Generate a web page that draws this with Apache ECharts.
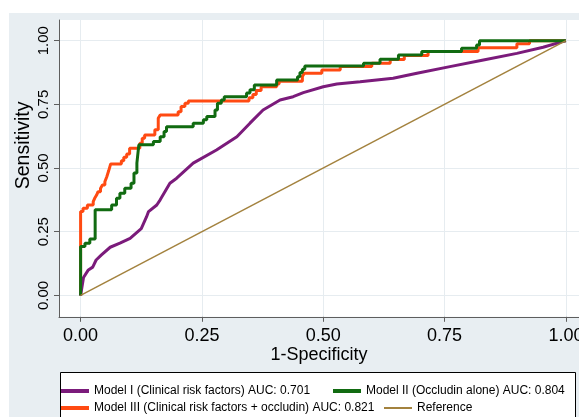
<!DOCTYPE html>
<html>
<head>
<meta charset="utf-8">
<script src="https://cdn.jsdelivr.net/npm/echarts@6/dist/echarts.min.js"></script>
<style>
html,body{margin:0;padding:0;background:#fff;}
#chart{width:579px;height:417px;}
</style>
</head>
<body>
<div id="chart"></div>
<script>
// ---- data ----
var tickValues = [0, 0.25, 0.5, 0.75, 1];

var seriesNames = [
  'Model I (Clinical risk factors) AUC: 0.701',
  'Model II (Occludin alone) AUC: 0.804',
  'Model III (Clinical risk factors + occludin) AUC: 0.821',
  'Reference'
];

// Model I (purple) : [1-specificity, sensitivity]
var model1Points = [
  [0,0],[0.006,0.07],[0.016,0.1],[0.025,0.111],[0.032,0.139],[0.043,0.159],[0.061,0.189],
  [0.081,0.205],[0.102,0.224],[0.125,0.262],[0.136,0.309],[0.14,0.329],[0.157,0.355],
  [0.164,0.375],[0.184,0.44],[0.198,0.46],[0.232,0.519],[0.28,0.571],[0.322,0.623],
  [0.349,0.676],[0.376,0.728],[0.411,0.767],[0.438,0.78],[0.459,0.796],[0.5,0.819],
  [0.528,0.83],[0.576,0.839],[0.644,0.852],[0.693,0.872],[0.761,0.898],[0.83,0.924],
  [0.899,0.95],[0.953,0.974],[1,1]
];

// Model II (green)
var model2Points = [
  [0,0],[0,0.192],[0.009,0.192],[0.009,0.205],[0.019,0.205],[0.019,0.221],[0.030,0.221],
  [0.030,0.336],[0.064,0.336],[0.064,0.355],[0.074,0.355],[0.074,0.381],[0.081,0.381],
  [0.081,0.401],[0.091,0.401],[0.091,0.421],[0.104,0.421],[0.104,0.44],[0.110,0.44],
  [0.110,0.48],[0.116,0.48],[0.116,0.519],[0.120,0.519],[0.120,0.591],[0.150,0.591],
  [0.150,0.604],[0.164,0.604],[0.164,0.623],[0.172,0.623],[0.172,0.643],[0.177,0.643],
  [0.177,0.662],[0.232,0.662],[0.232,0.676],[0.253,0.676],[0.253,0.689],[0.260,0.689],
  [0.260,0.702],[0.277,0.702],[0.277,0.728],[0.282,0.728],[0.282,0.754],[0.290,0.754],
  [0.290,0.767],[0.296,0.767],[0.296,0.780],[0.342,0.780],[0.342,0.794],[0.349,0.794],
  [0.349,0.807],[0.358,0.807],[0.358,0.826],[0.404,0.826],[0.404,0.845],[0.447,0.845],
  [0.447,0.858],[0.452,0.858],[0.452,0.875],[0.457,0.875],[0.457,0.888],[0.462,0.888],
  [0.462,0.90],[0.583,0.90],[0.583,0.911],[0.617,0.911],[0.617,0.927],[0.655,0.927],
  [0.655,0.944],[0.703,0.944],[0.703,0.957],[0.785,0.957],[0.785,0.970],[0.816,0.970],
  [0.816,0.983],[0.822,0.983],[0.822,1],[1,1]
];

// Model III (orange)
var model3Points = [
  [0,0],[0,0.329],[0.005,0.329],[0.005,0.342],[0.014,0.342],[0.014,0.355],[0.026,0.355],
  [0.026,0.368],[0.029,0.368],[0.029,0.381],[0.033,0.381],[0.033,0.394],[0.036,0.394],
  [0.036,0.407],[0.041,0.407],[0.041,0.42],[0.045,0.42],[0.045,0.433],[0.050,0.433],
  [0.050,0.446],[0.054,0.446],[0.054,0.466],[0.058,0.466],[0.058,0.49],[0.062,0.49],
  [0.062,0.516],[0.084,0.516],[0.084,0.529],[0.089,0.529],[0.089,0.542],[0.095,0.542],
  [0.095,0.555],[0.101,0.555],[0.101,0.578],[0.122,0.578],[0.122,0.597],[0.127,0.597],
  [0.127,0.617],[0.132,0.617],[0.132,0.630],[0.153,0.630],[0.153,0.65],[0.160,0.65],
  [0.160,0.695],[0.164,0.695],[0.164,0.708],[0.201,0.708],[0.201,0.721],[0.207,0.721],
  [0.207,0.741],[0.215,0.741],[0.215,0.754],[0.222,0.754],[0.222,0.763],[0.347,0.763],
  [0.347,0.776],[0.355,0.776],[0.355,0.789],[0.362,0.789],[0.362,0.804],[0.372,0.804],
  [0.372,0.819],[0.404,0.819],[0.404,0.83],[0.409,0.83],[0.409,0.841],[0.457,0.841],
  [0.457,0.859],[0.461,0.859],[0.461,0.872],[0.497,0.872],[0.497,0.885],[0.535,0.885],
  [0.535,0.898],[0.600,0.898],[0.600,0.911],[0.638,0.911],[0.638,0.926],[0.667,0.926],
  [0.667,0.942],[0.716,0.942],[0.716,0.957],[0.819,0.957],[0.819,0.972],[0.899,0.972],
  [0.899,0.988],[0.925,0.988],[0.925,1],[1,1]
];

var referencePoints = [[0,0],[1,1]];

var colors = ['#7b1b7b', '#116b11', '#ff4a12', '#a3823e'];

// ---- chart ----
var chart = echarts.init(document.getElementById('chart'), null, {renderer: 'canvas'});
var fontFamily = '"Liberation Sans", Arial, Helvetica, sans-serif';

function legendItem(name, left, top, color, h) {
  return {
    show: true,
    data: [name],
    left: left,
    top: top,
    orient: 'horizontal',
    padding: 0,
    itemWidth: 28,
    itemHeight: h,
    icon: 'rect',
    selectedMode: false,
    textStyle: {color: '#000', fontSize: 12, fontFamily: fontFamily},
    itemStyle: {color: color}
  };
}

var option = {
  backgroundColor: '#ffffff',
  animation: false,
  textStyle: {fontFamily: fontFamily},
  graphic: [
    {type: 'rect', z: -100, silent: true,
     shape: {x: 9, y: 13, width: 600, height: 450},
     style: {fill: '#e8eef2'}},
    {type: 'rect', z: 1, silent: true,
     shape: {x: 60.5, y: 372.5, width: 515, height: 80},
     style: {fill: '#ffffff', stroke: '#000', lineWidth: 1}}
  ],
  grid: {
    left: 59, top: 20, right: 0, bottom: 100.2,
    containLabel: false,
    outerBoundsMode: 'none',
    show: true, backgroundColor: '#ffffff', borderWidth: 0
  },
  legend: [
    legendItem(seriesNames[0], 61, 385, colors[0], 4),
    legendItem(seriesNames[1], 333, 385, colors[1], 4),
    legendItem(seriesNames[2], 61, 402, colors[2], 4),
    legendItem(seriesNames[3], 384, 402, colors[3], 2)
  ],
  xAxis: {
    type: 'value',
    min: -0.0445, max: 1.027,
    name: '1-Specificity',
    nameLocation: 'middle',
    nameGap: 29,
    nameMoveOverlap: false,
    nameTextStyle: {fontSize: 18, color: '#000', fontFamily: fontFamily},
    axisLine: {show: true, onZero: false, lineStyle: {color: '#5e5e5e', width: 1}},
    axisTick: {show: true, length: 5, customValues: tickValues, lineStyle: {color: '#5e5e5e'}},
    axisLabel: {show: true, customValues: tickValues, fontSize: 18, color: '#000', margin: 10,
      formatter: function (v) { return v.toFixed(2); }},
    splitLine: {show: true, lineStyle: {color: '#e6ecf0', width: 1}}
  },
  yAxis: {
    type: 'value',
    min: -0.084, max: 1.081,
    name: 'Sensitivity',
    nameLocation: 'middle',
    nameGap: 25,
    nameMoveOverlap: false,
    nameTextStyle: {fontSize: 19.5, color: '#000', fontFamily: fontFamily, padding: [0, 0, 0, 46]},
    axisLine: {show: true, onZero: false, lineStyle: {color: '#5e5e5e', width: 1}},
    axisTick: {show: true, length: 5, customValues: tickValues, lineStyle: {color: '#5e5e5e'}},
    axisLabel: {show: true, customValues: tickValues, fontSize: 15, color: '#000', margin: 8, rotate: 90,
      formatter: function (v) { return v.toFixed(2); }},
    splitLine: {show: true, lineStyle: {color: '#e6ecf0', width: 1}}
  },
  series: [
    {name: seriesNames[2], type: 'line', data: model3Points, symbol: 'none', z: 2,
     color: colors[2], lineStyle: {width: 3, color: colors[2]}},
    {name: seriesNames[0], type: 'line', data: model1Points, symbol: 'none', z: 3,
     color: colors[0], lineStyle: {width: 3, color: colors[0]}},
    {name: seriesNames[1], type: 'line', data: model2Points, symbol: 'none', z: 4,
     color: colors[1], lineStyle: {width: 3, color: colors[1]}},
    {name: seriesNames[3], type: 'line', data: referencePoints, symbol: 'none', z: 5,
     color: colors[3], lineStyle: {width: 1.5, color: colors[3]}}
  ]
};
chart.setOption(option);
</script>
</body>
</html>
